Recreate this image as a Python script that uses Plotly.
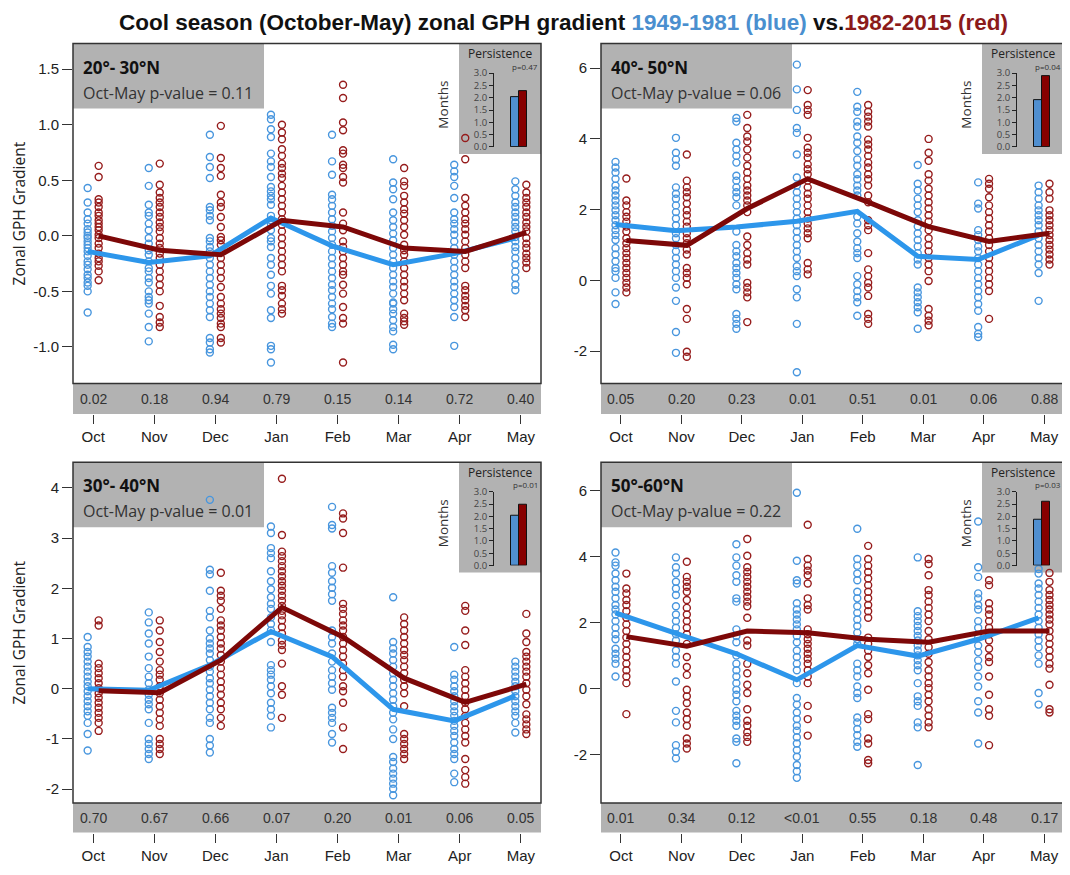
import plotly.graph_objects as go

# page offset of the plot inside the browser page (default body margin)
PAGE_OFF = 8
W, H = 1062, 867
months = ["Oct", "Nov", "Dec", "Jan", "Feb", "Mar", "Apr", "May"]

# ---------------- 20-30N ----------------
blue_20_30 = [
    [0.43,0.30,0.21,0.15,0.11,0.06,0.03,0.0,-0.02,-0.05,-0.08,-0.11,-0.14,-0.18,-0.23,-0.26,-0.30,-0.35,-0.38,-0.42,-0.45,-0.50,-0.69],
    [0.61,0.45,0.28,0.21,0.18,0.11,0.05,-0.02,-0.07,-0.13,-0.17,-0.23,-0.29,-0.32,-0.38,-0.42,-0.50,-0.55,-0.58,-0.61,-0.70,-0.82,-0.95],
    [0.91,0.71,0.62,0.52,0.26,0.23,0.18,0.14,-0.02,-0.05,-0.10,-0.14,-0.20,-0.26,-0.32,-0.38,-0.44,-0.50,-0.55,-0.61,-0.67,-0.73,-0.92,-0.96,-1.02,-1.05],
    [1.09,1.05,0.96,0.89,0.74,0.67,0.62,0.53,0.44,0.40,0.36,0.33,0.28,0.18,0.14,0.10,0.05,-0.02,-0.05,-0.10,-0.20,-0.26,-0.35,-0.45,-0.52,-0.67,-0.74,-0.99,-1.02,-1.14],
    [0.91,0.67,0.55,0.37,0.33,0.27,0.21,0.15,0.09,0.04,-0.02,-0.08,-0.14,-0.20,-0.26,-0.32,-0.38,-0.44,-0.49,-0.55,-0.61,-0.66,-0.73,-0.79,-0.82],
    [0.69,0.48,0.42,0.33,0.21,0.14,0.08,0.02,-0.04,-0.11,-0.17,-0.23,-0.29,-0.35,-0.41,-0.46,-0.52,-0.60,-0.61,-0.66,-0.70,-0.76,-0.82,-0.86,-0.98,-1.02],
    [0.64,0.58,0.53,0.45,0.34,0.21,0.15,0.11,0.06,0.01,-0.05,-0.11,-0.17,-0.23,-0.29,-0.35,-0.41,-0.46,-0.52,-0.58,-0.64,-0.73,-0.99],
    [0.49,0.42,0.36,0.30,0.26,0.21,0.17,0.12,0.08,0.04,-0.01,-0.05,-0.10,-0.14,-0.20,-0.26,-0.32,-0.38,-0.44,-0.49],
]
red_20_30 = [
    [0.63,0.53,0.33,0.30,0.26,0.21,0.18,0.14,0.11,0.08,0.05,0.01,-0.02,-0.07,-0.11,-0.16,-0.20,-0.23,-0.27,-0.32,-0.40],
    [0.65,0.46,0.39,0.34,0.30,0.26,0.21,0.17,0.12,0.08,0.04,-0.02,-0.07,-0.11,-0.16,-0.20,-0.26,-0.32,-0.38,-0.44,-0.50,-0.63,-0.73,-0.78,-0.82],
    [0.99,0.70,0.61,0.54,0.37,0.30,0.26,0.17,0.08,-0.01,-0.04,-0.08,-0.14,-0.20,-0.26,-0.32,-0.38,-0.46,-0.55,-0.61,-0.66,-0.70,-0.74,-0.79,-0.82,-0.92,-0.96],
    [1.0,0.93,0.87,0.78,0.72,0.65,0.61,0.56,0.52,0.45,0.39,0.33,0.27,0.21,0.15,0.10,0.04,-0.02,-0.08,-0.14,-0.20,-0.26,-0.32,-0.45,-0.49,-0.54,-0.61,-0.66,-0.70],
    [1.36,1.24,1.02,0.95,0.77,0.74,0.64,0.61,0.53,0.48,0.21,0.11,0.05,-0.05,-0.10,-0.14,-0.20,-0.26,-0.32,-0.35,-0.44,-0.52,-0.64,-0.74,-0.79,-1.14],
    [0.61,0.49,0.45,0.36,0.30,0.24,0.20,0.14,0.08,0.01,-0.08,-0.13,-0.17,-0.23,-0.29,-0.35,-0.41,-0.46,-0.52,-0.58,-0.70,-0.74,-0.77,-0.80],
    [0.88,0.69,0.34,0.27,0.21,0.15,0.11,0.06,0.01,-0.05,-0.11,-0.17,-0.23,-0.29,-0.45,-0.49,-0.54,-0.58,-0.63,-0.67,-0.73],
    [0.46,0.39,0.34,0.30,0.26,0.21,0.17,0.12,0.08,0.04,-0.02,-0.07,-0.11,-0.16,-0.20,-0.24,-0.29],
]
blue_mean_20_30 = [-0.14, -0.24, -0.18, 0.16, -0.09, -0.26, -0.16, -0.02]
red_mean_20_30 = [0.0, -0.13, -0.17, 0.14, 0.08, -0.11, -0.14, 0.03]
pvals_20_30 = ["0.02", "0.18", "0.94", "0.79", "0.15", "0.14", "0.72", "0.40"]
persist_20_30 = [2.04, 2.28]

# ---------------- 40-50N ----------------
blue_40_50 = [
    [3.35,3.19,3.05,2.87,2.68,2.54,2.40,2.26,2.12,1.98,1.84,1.70,1.56,1.42,1.28,1.14,0.91,0.73,0.54,0.35,0.26,0.07,-0.34,-0.67],
    [4.03,3.61,3.42,3.24,2.63,2.45,2.31,2.12,1.93,1.75,1.56,1.33,1.19,1.00,0.82,0.63,0.45,0.26,0.07,-0.20,-0.58,-1.46,-2.05],
    [4.59,4.49,3.89,3.70,3.52,3.33,2.96,2.82,2.63,2.49,2.35,2.12,1.38,1.00,0.82,0.68,0.49,0.35,0.21,0.07,-0.11,-0.25,-0.95,-1.09,-1.23,-1.37],
    [6.10,5.40,4.82,4.31,4.17,3.56,2.91,2.68,2.49,2.31,2.12,1.93,1.75,1.56,1.38,1.19,1.00,0.82,0.63,0.40,0.26,0.12,-0.25,-0.48,-1.23,-2.60],
    [5.33,4.91,4.77,4.49,4.35,4.07,3.89,3.66,3.42,3.24,3.00,2.86,2.68,2.54,2.40,1.80,1.61,1.33,1.10,0.91,0.77,0.63,0.12,-0.11,-0.30,-0.48,-0.62,-1.00],
    [3.26,2.73,2.54,2.31,2.12,1.93,1.70,1.52,1.33,1.14,0.96,0.77,0.59,0.45,-0.20,-0.34,-0.48,-0.62,-0.76,-0.90,-1.37],
    [2.77,2.17,2.03,1.42,1.28,1.14,0.96,0.82,0.63,0.45,0.26,0.07,-0.11,-0.30,-0.48,-0.67,-0.86,-1.32,-1.51,-1.60],
    [2.68,2.49,2.31,2.12,1.98,1.84,1.70,1.56,1.38,1.19,1.00,0.82,0.63,0.45,0.21,-0.58],
]
red_40_50 = [
    [2.88,2.26,2.12,1.93,1.80,1.66,1.52,1.38,1.19,1.05,0.91,0.77,0.63,0.49,0.35,0.21,0.07,-0.07,-0.20,-0.34],
    [3.56,2.82,2.63,2.49,2.35,2.17,1.98,1.84,1.66,1.52,1.33,1.19,1.05,0.87,0.73,0.35,0.21,0.07,-0.11,-0.81,-1.09,-2.02,-2.16],
    [4.68,4.31,4.07,3.93,3.70,3.47,3.24,3.05,2.87,2.68,2.54,2.40,2.26,2.12,1.93,1.24,1.00,0.77,0.59,0.45,-0.07,-0.20,-0.34,-0.48,-1.18],
    [5.38,4.96,4.82,4.68,4.03,3.75,3.61,3.47,3.28,3.14,3.00,2.82,2.63,2.45,2.31,2.12,1.93,1.75,1.61,1.47,1.33,1.19,0.49,0.31,0.17],
    [4.96,4.77,4.63,4.49,4.35,3.98,3.84,3.70,3.52,3.33,3.19,3.00,2.86,2.68,2.40,2.21,1.70,1.56,1.42,0.77,0.31,0.12,-0.07,-0.20,-0.44,-0.95,-1.09,-1.23],
    [4.00,3.61,3.38,3.00,2.82,2.59,2.40,2.21,2.03,1.84,1.66,1.42,1.19,1.00,0.82,0.63,0.45,0.26,-0.02,-0.81,-1.00,-1.14,-1.27],
    [2.87,2.73,2.59,2.35,2.12,1.93,1.75,1.56,1.38,1.19,1.00,0.82,0.63,0.45,0.26,0.07,-0.11,-0.30,-1.09],
    [2.73,2.49,2.31,1.98,1.84,1.70,1.56,1.42,1.28,1.14,1.00,0.87,0.73,0.59,0.45],
]
blue_mean_40_50 = [1.58, 1.40, 1.51, 1.67, 1.95, 0.68, 0.59, 1.28]
red_mean_40_50 = [1.13, 0.99, 2.03, 2.87, 2.21, 1.52, 1.10, 1.33]
pvals_40_50 = ["0.05", "0.20", "0.23", "0.01", "0.51", "0.01", "0.06", "0.88"]
persist_40_50 = [1.92, 2.88]

# ---------------- 30-40N ----------------
blue_30_40 = [
    [1.03,0.83,0.73,0.64,0.54,0.44,0.34,0.24,0.14,0.05,-0.05,-0.15,-0.25,-0.35,-0.45,-0.54,-0.68,-0.90,-1.23],
    [1.52,1.32,1.10,0.90,0.64,0.41,0.24,0.11,-0.02,-0.12,-0.22,-0.31,-0.41,-0.68,-1.0,-1.10,-1.20,-1.30,-1.40],
    [3.76,2.37,2.28,1.95,1.55,1.42,1.16,1.00,0.90,0.80,0.70,0.57,0.44,0.34,0.21,0.11,-0.02,-0.15,-0.28,-0.41,-0.58,-0.68,-1.0,-1.13,-1.27],
    [3.23,3.10,2.80,2.70,2.60,2.34,2.14,1.98,1.82,1.69,1.59,1.42,1.29,1.16,0.93,0.47,0.37,0.28,0.18,0.05,-0.09,-0.28,-0.41,-0.54,-0.77],
    [3.62,3.26,3.19,2.44,2.31,2.14,2.01,1.88,1.75,1.16,1.03,0.90,0.70,0.54,0.37,0.24,0.11,-0.02,-0.38,-0.48,-0.58,-0.68,-0.90,-1.07],
    [1.82,0.93,0.80,0.70,0.57,0.44,0.31,0.18,0.05,-0.09,-0.22,-0.35,-0.48,-0.61,-0.81,-1.0,-1.36,-1.46,-1.59,-1.69,-1.79,-1.89,-1.99,-2.12],
    [0.83,0.28,0.18,0.05,-0.05,-0.15,-0.25,-0.35,-0.45,-0.54,-0.64,-0.74,-0.84,-0.94,-1.07,-1.20,-1.30,-1.40,-1.69,-1.86],
    [0.54,0.44,0.34,0.24,0.14,0.05,-0.05,-0.15,-0.25,-0.35,-0.45,-0.54,-0.68,-0.87],
]
red_30_40 = [
    [1.36,1.26,0.50,0.41,0.31,0.21,0.11,0.01,-0.09,-0.18,-0.28,-0.38,-0.48,-0.58,-0.68,-0.84],
    [1.36,1.16,0.93,0.73,0.54,0.37,0.28,0.18,0.05,-0.09,-0.22,-0.35,-0.48,-0.61,-0.74,-1.0,-1.10,-1.20,-1.30],
    [2.31,1.95,1.85,1.75,1.59,1.36,1.26,1.16,1.03,0.90,0.80,0.67,0.54,0.41,0.28,0.14,0.01,-0.12,-0.28,-0.41,-0.58,-0.74],
    [4.18,3.06,2.73,2.64,2.54,2.44,2.34,2.24,2.14,2.05,1.95,1.85,1.75,1.65,1.55,1.46,1.36,1.23,1.10,0.96,0.87,0.77,0.50,0.05,-0.12,-0.58],
    [3.49,3.39,3.10,2.41,1.69,1.59,1.49,1.36,1.26,1.16,1.03,0.90,0.77,0.64,0.50,0.37,0.24,0.05,-0.05,-0.28,-0.77,-1.20],
    [1.42,1.29,1.16,1.03,0.90,0.77,0.67,0.57,0.44,0.31,0.18,0.05,-0.09,-0.35,-0.90,-1.0,-1.10,-1.20,-1.30,-1.40],
    [1.65,1.55,1.16,0.87,0.37,0.24,0.11,-0.02,-0.15,-0.28,-0.41,-0.54,-0.68,-0.81,-0.94,-1.07,-1.40,-1.62,-1.76,-1.89],
    [1.49,1.10,0.93,0.73,0.64,0.54,0.44,0.34,0.24,0.11,-0.02,-0.15,-0.31,-0.51,-0.61,-0.71,-0.81,-0.90],
]
blue_mean_30_40 = [0.0, -0.03, 0.47, 1.14, 0.64, -0.41, -0.64, -0.14]
red_mean_30_40 = [-0.04, -0.08, 0.57, 1.62, 1.03, 0.21, -0.27, 0.09]
pvals_30_40 = ["0.70", "0.67", "0.66", "0.07", "0.20", "0.01", "0.06", "0.05"]
persist_30_40 = [2.04, 2.48]

# ---------------- 50-60N ----------------
blue_50_60 = [
    [4.13,3.83,3.73,3.49,3.29,3.09,2.94,2.74,2.54,2.40,2.25,2.05,1.85,1.65,1.50,1.21,1.06,0.91,0.76,0.37],
    [3.98,3.68,3.49,3.24,3.04,2.84,2.50,2.25,2.05,1.85,1.65,1.46,1.16,0.96,0.76,0.22,-0.67,-1.02,-1.71,-1.91,-2.11],
    [4.38,3.98,3.73,3.44,3.24,2.74,2.64,1.80,1.60,1.41,1.01,0.76,0.56,0.37,0.17,-0.03,-0.18,-0.38,-0.67,-0.82,-0.97,-1.12,-1.51,-1.61,-2.26],
    [5.94,3.88,3.29,3.19,2.59,2.40,2.25,2.10,1.95,1.80,1.60,1.41,1.16,0.96,0.76,0.56,0.17,-0.28,-0.48,-0.72,-0.92,-1.12,-1.27,-1.47,-1.66,-1.86,-2.06,-2.31,-2.50,-2.70],
    [4.85,3.93,3.73,3.49,3.29,2.94,2.74,2.50,2.30,2.10,1.90,1.70,1.50,1.36,0.76,0.56,0.37,0.07,-0.13,-0.28,-0.87,-1.02,-1.22,-1.41,-1.61,-1.76],
    [3.98,2.35,2.20,2.05,1.90,1.75,1.60,1.46,1.31,1.16,1.01,0.86,0.71,0.56,0.17,-0.23,-0.38,-0.52,-1.02,-1.17,-2.31],
    [5.07,3.68,3.39,2.89,2.74,2.54,2.40,2.05,1.85,1.55,1.31,1.11,0.86,0.66,0.37,0.07,-0.38,-0.72,-1.66],
    [4.35,4.23,3.63,3.49,3.19,3.04,2.84,2.64,2.45,2.25,2.05,1.85,1.65,1.46,1.26,1.01,0.76,-0.13,-0.48],
]
red_50_60 = [
    [3.49,3.04,2.89,2.69,2.54,2.35,2.15,1.95,1.75,1.55,1.36,1.16,0.96,0.76,0.56,0.37,0.17,-0.77],
    [3.85,3.39,3.24,3.09,2.94,2.69,2.45,2.25,2.05,1.85,1.65,1.36,0.96,0.66,0.42,-0.03,-0.23,-0.43,-0.72,-0.92,-1.12,-1.51,-1.66,-1.81],
    [4.54,4.03,3.68,3.54,3.39,3.24,3.09,2.94,2.79,2.64,2.50,2.15,1.46,1.31,0.76,0.47,0.12,-0.13,-0.62,-0.97,-1.12,-1.32,-1.46,-1.61],
    [4.97,3.93,3.73,3.58,3.44,3.19,2.74,2.54,2.40,1.80,1.65,1.50,1.36,1.21,1.06,0.91,0.76,0.56,0.37,0.17,-0.52,-0.92,-1.42],
    [4.33,3.93,3.73,3.54,3.34,3.14,2.94,2.74,2.54,2.35,2.15,1.55,1.36,1.16,0.96,0.71,0.47,-0.03,-0.77,-0.92,-1.51,-1.66,-2.16,-2.26],
    [3.93,3.78,3.44,2.99,2.84,2.64,2.45,2.25,2.05,1.75,1.50,1.26,1.06,0.81,0.56,0.37,0.17,0.02,-0.18,-0.38,-0.62,-0.82,-1.02,-1.17],
    [3.29,3.14,2.59,2.40,2.25,2.05,1.85,1.65,1.46,1.21,0.96,0.81,0.37,-0.18,-0.62,-0.82,-1.71],
    [3.51,3.24,2.99,2.84,2.69,2.54,2.40,2.25,2.10,1.95,1.75,1.55,1.36,1.16,0.96,0.76,0.61,0.12,-0.62,-0.72],
]
blue_mean_50_60 = [2.30, 1.70, 1.06, 0.27, 1.31, 0.99, 1.50, 2.15]
red_mean_50_60 = [1.58, 1.29, 1.75, 1.70, 1.50, 1.41, 1.75, 1.75]
pvals_50_60 = ["0.01", "0.34", "0.12", "<0.01", "0.55", "0.18", "0.48", "0.17"]
persist_50_60 = [1.88, 2.60]

# ---------------- styles ----------------
BLUE_PT = "rgb(72,150,222)"
RED_PT = "rgb(150,28,28)"
BLUE_LINE = "rgb(45,150,235)"
RED_LINE = "rgb(125,8,8)"
BAR_BLUE = "rgb(80,143,208)"
BAR_RED = "rgb(135,0,0)"
GRAY = "rgb(178,178,178)"
FONT = "Open Sans, Liberation Sans, sans-serif"
NARROW = "Liberation Sans Narrow, Arial Narrow, Liberation Sans, sans-serif"

panels = [
    dict(label="20°- 30°N", p="0.11", blue=blue_20_30, red=red_20_30,
         bm=blue_mean_20_30, rm=red_mean_20_30, pv=pvals_20_30, pers=persist_20_30, pp="p=0.47",
         L=73, R=541, top=37, bot=382, band=413, yt=1.7305, yb=-1.328,
         ticks=[-1.0, -0.5, 0.0, 0.5, 1.0, 1.5], fmt="{:.1f}", ytitle=True),
    dict(label="40°- 50°N", p="0.06", blue=blue_40_50, red=red_40_50,
         bm=blue_mean_40_50, rm=red_mean_40_50, pv=pvals_40_50, pers=persist_40_50, pp="p=0.04",
         L=601, R=1064, top=37, bot=382, band=413, yt=6.696, yb=-2.914,
         ticks=[-2, 0, 2, 4, 6], fmt="{:d}", ytitle=False),
    dict(label="30°- 40°N", p="0.01", blue=blue_30_40, red=red_30_40,
         bm=blue_mean_30_40, rm=red_mean_30_40, pv=pvals_30_40, pers=persist_30_40, pp="p=0.01",
         L=73, R=541, top=462, bot=808, band=838, yt=4.51, yb=-2.275,
         ticks=[-2, -1, 0, 1, 2, 3, 4], fmt="{:d}", ytitle=True),
    dict(label="50°-60°N", p="0.22", blue=blue_50_60, red=red_50_60,
         bm=blue_mean_50_60, rm=red_mean_50_60, pv=pvals_50_60, pers=persist_50_60, pp="p=0.03",
         L=601, R=1064, top=462, bot=808, band=838, yt=6.866, yb=-3.463,
         ticks=[-2, 0, 2, 4, 6], fmt="{:d}", ytitle=False),
]

def fx(px):
    return (px - PAGE_OFF) / W

def fy(py):
    return 1 - (py - PAGE_OFF) / H

fig = go.Figure()
layout = dict(width=W, height=H, margin=dict(l=0, r=0, t=0, b=0),
              paper_bgcolor="white", plot_bgcolor="rgba(0,0,0,0)", showlegend=False)
shapes = []
annotations = []
OFF = 0.09
XR = [-0.33, 7.33]

for k, P in enumerate(panels):
    i = k + 1
    ix = k + 5
    xa = "x" if i == 1 else f"x{i}"
    ya = "y" if i == 1 else f"y{i}"
    L, R, top, bot, band = P["L"], P["R"], P["top"], P["bot"], P["band"]
    yt, yb = P["yt"], P["yb"]
    ymin = yb - (band - bot) * (yt - yb) / (bot - top)

    for m in range(8):
        fig.add_trace(go.Scatter(x=[m - OFF] * len(P["blue"][m]), y=P["blue"][m], mode="markers",
                                 marker=dict(symbol="circle-open", size=7, color=BLUE_PT, line=dict(width=1.4)),
                                 xaxis=xa, yaxis=ya, hoverinfo="skip"))
        fig.add_trace(go.Scatter(x=[m + OFF] * len(P["red"][m]), y=P["red"][m], mode="markers",
                                 marker=dict(symbol="circle-open", size=7, color=RED_PT, line=dict(width=1.4)),
                                 xaxis=xa, yaxis=ya, hoverinfo="skip"))
    fig.add_trace(go.Scatter(x=[m - OFF for m in range(8)], y=P["bm"], mode="lines",
                             line=dict(color=BLUE_LINE, width=5), xaxis=xa, yaxis=ya))
    fig.add_trace(go.Scatter(x=[m + OFF for m in range(8)], y=P["rm"], mode="lines",
                             line=dict(color=RED_LINE, width=5), xaxis=xa, yaxis=ya))

    layout["xaxis" if i == 1 else f"xaxis{i}"] = dict(
        domain=[fx(L), fx(R)], anchor=ya, range=XR, tickvals=list(range(8)), ticktext=months,
        ticks="outside", ticklen=9, tickcolor="#333", tickwidth=1,
        tickfont=dict(family=NARROW, size=15, color="#222"),
        showgrid=False, zeroline=False, showline=False, fixedrange=True)
    layout["yaxis" if i == 1 else f"yaxis{i}"] = dict(
        domain=[fy(band), fy(top)], anchor=xa, range=[ymin, yt],
        tickvals=P["ticks"], ticktext=[P["fmt"].format(t) for t in P["ticks"]],
        ticks="outside", ticklen=10, tickcolor="#333", tickwidth=1,
        tickfont=dict(family=NARROW, size=15, color="#222"),
        showgrid=False, zeroline=False, showline=False, fixedrange=True)

    axL = R - 47
    fig.add_trace(go.Bar(x=[0, 1], y=P["pers"], width=[1, 1],
                         marker=dict(color=[BAR_BLUE, BAR_RED], line=dict(color="#111", width=1)),
                         xaxis=f"x{ix}", yaxis=f"y{ix}", hoverinfo="skip"))
    layout[f"xaxis{ix}"] = dict(domain=[fx(axL), fx(R - 8)], anchor=f"y{ix}",
                                range=[-(R - 26 - axL) / 8.0, 1 + (R - 8 - (R - 18)) / 8.0],
                                visible=False, fixedrange=True)
    layout[f"yaxis{ix}"] = dict(domain=[fy(top + 105), fy(top + 30)], anchor=f"x{ix}", range=[0, 3],
                                tickvals=[0, 0.5, 1, 1.5, 2, 2.5, 3],
                                ticktext=["0.0", "0.5", "1.0", "1.5", "2.0", "2.5", "3.0"],
                                ticks="outside", ticklen=4, tickcolor="#222",
                                tickfont=dict(family=FONT, size=9.5, color="#444"),
                                showline=True, linecolor="#222", linewidth=1,
                                showgrid=False, zeroline=False, fixedrange=True)

    shapes.append(dict(type="rect", xref="paper", yref="paper", x0=fx(L), x1=fx(R), y0=fy(band), y1=fy(bot),
                       fillcolor=GRAY, line=dict(width=0), layer="below"))
    shapes.append(dict(type="rect", xref="paper", yref="paper", x0=fx(L), x1=fx(L + 191), y0=fy(top + 66), y1=fy(top),
                       fillcolor=GRAY, line=dict(width=0), layer="below"))
    shapes.append(dict(type="rect", xref="paper", yref="paper", x0=fx(R - 82), x1=fx(R), y0=fy(top + 112), y1=fy(top),
                       fillcolor=GRAY, line=dict(width=0), layer="below"))
    shapes.append(dict(type="rect", xref="paper", yref="paper", x0=fx(L), x1=fx(R), y0=fy(bot), y1=fy(top),
                       line=dict(color="#333", width=1.5), layer="above"))

    annotations.append(dict(x=fx(L + 8), y=fy(top + 24), xref="paper", yref="paper", xanchor="left", yanchor="middle",
                            text="<b>" + P["label"] + "</b>", showarrow=False,
                            font=dict(family=FONT, size=17, color="#111")))
    annotations.append(dict(x=fx(L + 8), y=fy(top + 50), xref="paper", yref="paper", xanchor="left", yanchor="middle",
                            text="Oct-May p-value = " + P["p"], showarrow=False,
                            font=dict(family=FONT, size=16, color="#333")))
    annotations.append(dict(x=fx(R - 41), y=fy(top + 10), xref="paper", yref="paper", xanchor="center", yanchor="middle",
                            text="Persistence", showarrow=False, font=dict(family=FONT, size=12, color="#222")))
    annotations.append(dict(x=fx(R - 16), y=fy(top + 23), xref="paper", yref="paper", xanchor="center", yanchor="middle",
                            text=P["pp"], showarrow=False, font=dict(family=FONT, size=8, color="#333")))
    annotations.append(dict(x=fx(R - 98), y=fy(top + 62), xref="paper", yref="paper", xanchor="center", yanchor="middle",
                            text="Months", textangle=-90, showarrow=False, font=dict(family=FONT, size=13.5, color="#333")))
    for m in range(8):
        annotations.append(dict(x=m, y=(yb + ymin) / 2, xref=xa, yref=ya, xanchor="center", yanchor="middle",
                                text=P["pv"][m], showarrow=False, font=dict(family=NARROW, size=14, color="#333")))
    if P["ytitle"]:
        annotations.append(dict(x=fx(19), y=fy((top + bot) / 2), xref="paper", yref="paper", xanchor="center",
                                yanchor="middle", text="Zonal GPH Gradient", textangle=-90, showarrow=False,
                                font=dict(family=FONT, size=15.5, color="#222")))

annotations.append(dict(x=fx(563), y=fy(16), xref="paper", yref="paper", xanchor="center", yanchor="middle",
                        text="<b>Cool season (October-May) zonal GPH gradient "
                             "<span style='color:#4a8fcf'>1949-1981 (blue)</span> vs."
                             "<span style='color:#8b1a1a'>1982-2015 (red)</span></b>",
                        showarrow=False, font=dict(family=NARROW, size=22.5, color="#111")))

layout["shapes"] = shapes
layout["annotations"] = annotations
layout["bargap"] = 0
fig.update_layout(**layout)
fig.write_html("out.html")
